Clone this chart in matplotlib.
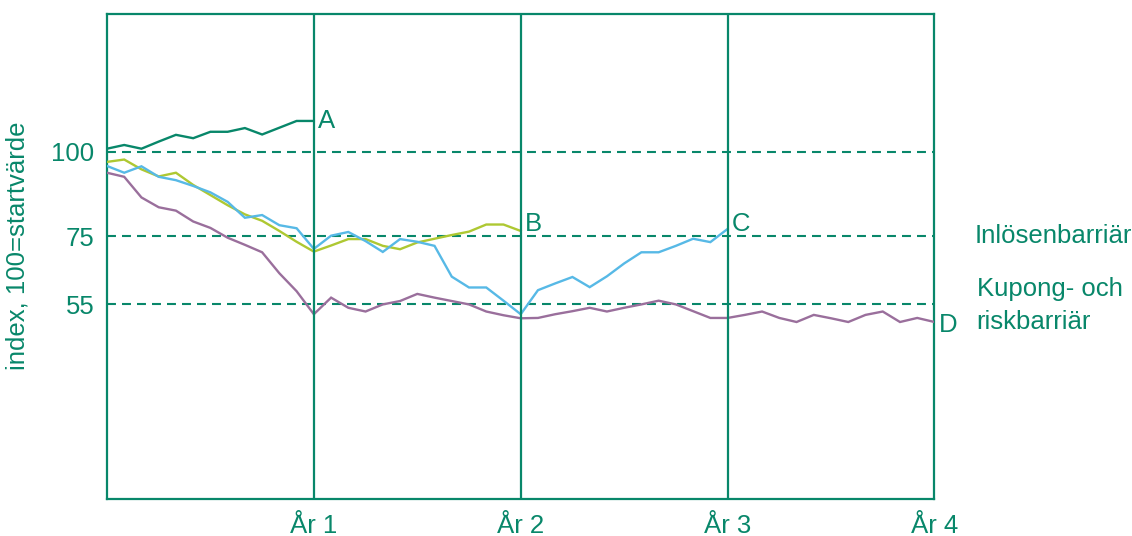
import matplotlib
matplotlib.use("Agg")
import matplotlib.pyplot as plt
import numpy as np

plt.rcParams['font.family'] = ['Liberation Sans', 'DejaVu Sans']

# ---- data (index, 100 = start value), monthly observations ----
series_A = [100.9, 102.0, 100.9, 103.0, 105.0, 104.0, 105.9, 105.9, 107.0, 105.1,
            107.1, 109.1, 109.1]
series_B = [97.0, 97.7, 94.8, 92.7, 93.8, 90.2, 87.2, 84.2, 81.5, 79.6, 76.6, 73.4,
            70.5, 72.3, 74.2, 74.2, 72.2, 71.2, 73.2, 74.3, 75.4, 76.4, 78.5, 78.5,
            76.6]
series_C = [95.8, 93.8, 95.7, 92.6, 91.6, 89.9, 88.0, 85.2, 80.5, 81.3, 78.3, 77.4,
            71.3, 75.2, 76.3, 73.6, 70.4, 74.2, 73.4, 72.2, 63.1, 59.9, 59.9, 56.0,
            52.0, 59.1, 61.1, 63.0, 60.0, 63.2, 67.0, 70.3, 70.3, 72.2, 74.3, 73.3,
            77.2]
series_D = [93.8, 92.6, 86.5, 83.6, 82.6, 79.4, 77.5, 74.6, 72.5, 70.3, 64.1, 58.8,
            52.0, 56.9, 53.9, 52.8, 54.9, 55.9, 58.0, 56.9, 55.9, 54.9, 52.8, 51.7,
            50.8, 50.9, 52.0, 52.9, 53.9, 52.8, 53.9, 54.9, 56.0, 54.9, 52.9, 50.9,
            50.9, 51.8, 52.8, 50.9, 49.7, 51.8, 50.8, 49.7, 51.8, 52.8, 49.7, 50.9,
            49.7]
series_names = ["A", "B", "C", "D"]

barrier_levels = [100, 75, 55]
barrier_labels = ["Inlösenbarriär", "Kupong- och\nriskbarriär"]
year_ticks = [1, 2, 3, 4]
year_labels = ["År 1", "År 2", "År 3", "År 4"]
ylabel = "index, 100=startvärde"

GREEN = "#08876a"
COLORS = [GREEN, "#aec832", "#57b9e6", "#9a6f9c"]
FS = 18.5

fig = plt.figure(figsize=(11.32, 5.36), dpi=100)
ax = fig.add_axes([0.0945, 0.0696, 0.731, 0.9043])

all_series = [series_A, series_B, series_C, series_D]
for vals, col, name in zip(all_series, COLORS, series_names):
    x = np.arange(len(vals)) / 12.0
    ax.plot(x, vals, color=col, lw=1.7, solid_joinstyle='miter', zorder=3)

# barrier lines
for lvl in barrier_levels:
    ax.plot([0, 4], [lvl, lvl], color=GREEN, lw=1.5, dashes=(4.3, 2.9), zorder=2)

# yearly vertical lines
for yr in year_ticks[:-1]:
    ax.axvline(yr, color=GREEN, lw=1.6, zorder=4)

# end labels
label_offsets = [0.0, 2.0, 1.5, -1.0]
for vals, name, off in zip(all_series, series_names, label_offsets):
    xe = (len(vals) - 1) / 12.0
    ax.text(xe + 0.022, vals[-1] + off, name, color=GREEN, fontsize=FS,
            ha='left', va='center', clip_on=False, zorder=5)

# barrier labels on the right
ax.text(1.048, 75, barrier_labels[0], transform=ax.get_yaxis_transform(),
        color=GREEN, fontsize=FS, ha='left', va='center', clip_on=False)
ax.text(1.051, 54.6, barrier_labels[1], transform=ax.get_yaxis_transform(),
        color=GREEN, fontsize=FS, ha='left', va='center', clip_on=False,
        linespacing=1.47)

ax.set_xlim(0, 4)
ax.set_ylim(-2.5, 140.7)
ax.set_xticks(year_ticks)
ax.set_xticklabels(year_labels)
ax.set_yticks(barrier_levels)
ax.set_yticklabels([str(v) for v in barrier_levels])
ax.tick_params(axis='both', length=0, colors=GREEN, labelsize=FS)
ax.tick_params(axis='x', pad=11)
ax.tick_params(axis='y', pad=9)
ax.set_ylabel(ylabel, color=GREEN, fontsize=FS)
ax.yaxis.set_label_coords(-0.094, 0.521)
for s in ax.spines.values():
    s.set_color(GREEN)
    s.set_linewidth(1.6)

fig.savefig("out.png", dpi=100)
